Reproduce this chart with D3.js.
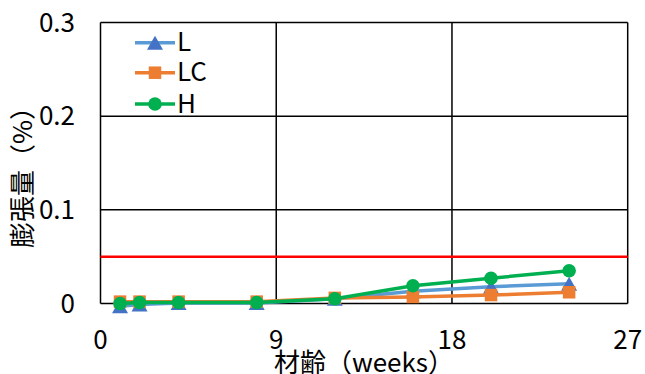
<!DOCTYPE html>
<html><head><meta charset="utf-8">
<script src="https://cdn.jsdelivr.net/npm/d3@7"></script>
<style>body{margin:0;background:#fff}svg{display:block}</style>
</head><body>
<svg id="c" width="645" height="374"></svg>
<script>
const weeks = [1, 2, 4, 8, 12, 16, 20, 24];
const seriesL  = [-0.003, -0.001, 0.0005, 0.0005, 0.005, 0.013, 0.018, 0.021];
const seriesLC = [0.002, 0.002, 0.002, 0.002, 0.006, 0.007, 0.009, 0.012];
const seriesH  = [0.000, 0.001, 0.001, 0.001, 0.005, 0.019, 0.027, 0.035];
const seriesNames = ["L", "LC", "H"];
const xTicks = [0, 9, 18, 27];
const yTicks = [0, 0.1, 0.2, 0.3];
const yTickLabels = ["0", "0.1", "0.2", "0.3"];
const limitValue = 0.05;
const xTitle = "材齢（weeks）";
const yTitle = "膨張量（%）";

const FONT = "'Noto Sans CJK JP', 'Noto Sans', sans-serif";
const svg = d3.select("#c");
const x = d3.scaleLinear().domain([0, 27]).range([100.5, 627.7]);
const y = d3.scaleLinear().domain([0, 0.3]).range([303.5, 22.5]);

const styles = [
  {line: "#5B9BD5", marker: "#4472C4", shape: "tri"},
  {line: "#ED7D31", marker: "#ED7D31", shape: "sq"},
  {line: "#00B050", marker: "#00B050", shape: "circ"}
];
const data = [seriesL, seriesLC, seriesH];

// gridlines
const g = svg.append("g");
yTicks.filter(d => d > 0).forEach(t => {
  g.append("line").attr("x1", x(0)).attr("x2", x(27)).attr("y1", y(t)).attr("y2", y(t))
    .attr("stroke", "#000").attr("stroke-width", 1.5);
});
xTicks.filter(d => d > 0).forEach(t => {
  g.append("line").attr("x1", x(t)).attr("x2", x(t)).attr("y1", y(0)).attr("y2", y(0.3))
    .attr("stroke", "#000").attr("stroke-width", 1.5);
});
// axes lines
g.append("line").attr("x1", x(0)).attr("x2", x(0)).attr("y1", y(0)).attr("y2", y(0.3)).attr("stroke", "#000").attr("stroke-width", 1.5);
g.append("line").attr("x1", x(0)).attr("x2", x(27)).attr("y1", y(0)).attr("y2", y(0)).attr("stroke", "#000").attr("stroke-width", 1.5);

// red limit line
svg.append("line").attr("x1", x(0)).attr("x2", x(27)).attr("y1", y(limitValue)).attr("y2", y(limitValue))
  .attr("stroke", "#FF0000").attr("stroke-width", 2.5);

// tick labels
yTicks.forEach((t, i) => {
  svg.append("text").attr("x", 75).attr("y", y(t) + 9).attr("text-anchor", "end")
    .attr("font-family", FONT).attr("font-size", 26).attr("fill", "#000").text(yTickLabels[i]);
});
xTicks.forEach(t => {
  svg.append("text").attr("x", x(t)).attr("y", 349).attr("text-anchor", "middle")
    .attr("font-family", FONT).attr("font-size", 26).attr("fill", "#000").text(t);
});

// titles
svg.append("text").attr("x", 364).attr("y", 372).attr("text-anchor", "middle")
  .attr("font-family", FONT).attr("font-size", 26).attr("fill", "#000").text(xTitle);
svg.append("text").attr("transform", "translate(32,171) rotate(-90)").attr("text-anchor", "middle")
  .attr("font-family", FONT).attr("font-size", 26).attr("fill", "#000").text(yTitle);

function marker(sel, shape, color, cx, cy) {
  if (shape === "tri") {
    const s = 16, h = 14;
    sel.append("path").attr("d", `M${cx},${cy - h/2}L${cx + s/2},${cy + h/2}L${cx - s/2},${cy + h/2}Z`).attr("fill", color);
  } else if (shape === "sq") {
    const s = 12.5;
    sel.append("rect").attr("x", cx - s/2).attr("y", cy - s/2).attr("width", s).attr("height", s).attr("fill", color);
  } else {
    sel.append("circle").attr("cx", cx).attr("cy", cy).attr("r", 6.8).attr("fill", color);
  }
}

const line = d3.line().x((d, i) => x(weeks[i])).y(d => y(d));
data.forEach((vals, k) => {
  const sg = svg.append("g");
  sg.append("path").attr("d", line(vals)).attr("fill", "none").attr("stroke", styles[k].line)
    .attr("stroke-width", 3.5).attr("stroke-linejoin", "round");
  vals.forEach((v, i) => marker(sg, styles[k].shape, styles[k].marker, x(weeks[i]), y(v)));
});

// legend
const legY = [42.7, 72.7, 104];
seriesNames.forEach((n, k) => {
  const lg = svg.append("g");
  lg.append("line").attr("x1", 135).attr("x2", 175).attr("y1", legY[k]).attr("y2", legY[k])
    .attr("stroke", styles[k].line).attr("stroke-width", 3.5);
  marker(lg, styles[k].shape, styles[k].marker, 155, legY[k]);
  lg.append("text").attr("x", 177).attr("y", legY[k] + 8.5).attr("font-family", FONT)
    .attr("font-size", 26).attr("fill", "#000").text(n);
});
</script>
</body></html>
